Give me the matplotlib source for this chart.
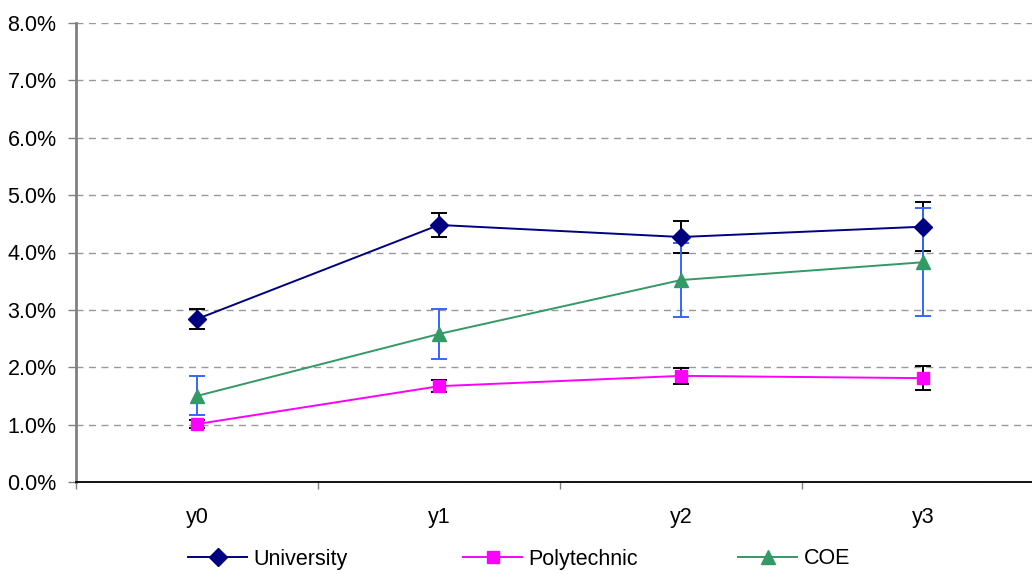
import matplotlib
matplotlib.use("Agg")
import matplotlib.pyplot as plt
from matplotlib.ticker import PercentFormatter, FixedLocator, NullFormatter, FixedFormatter

plt.rcParams['font.family'] = ['Liberation Sans', 'DejaVu Sans']

categories = ["y0", "y1", "y2", "y3"]
university = [2.84, 4.48, 4.27, 4.45]
university_err = [0.18, 0.21, 0.28, 0.43]
polytechnic = [1.01, 1.67, 1.85, 1.81]
polytechnic_err = [0.07, 0.10, 0.14, 0.21]
coe = [1.50, 2.58, 3.52, 3.83]
coe_err = [0.34, 0.44, 0.64, 0.94]

W, H = 1032, 574
fig = plt.figure(figsize=(W / 100, H / 100), dpi=100)
ax = fig.add_axes([76 / W, (H - 482) / H, (1044 - 76) / W, (482 - 23) / H])

x = [i + 0.5 for i in range(len(categories))]

series = [
    ("University", university, university_err, "#000080", "D", 9, "black"),
    ("Polytechnic", polytechnic, polytechnic_err, "#FF00FF", "s", 8.5, "black"),
    ("COE", coe, coe_err, "#339966", "^", 10, "#3366FF"),
]

handles = []
for name, vals, errs, color, marker, ms, ecolor in series:
    ax.errorbar(x, vals, yerr=errs, fmt="none", ecolor=ecolor, elinewidth=1.4,
                capsize=6, capthick=1.4, zorder=3)
    h, = ax.plot(x, vals, color=color, lw=1.4, marker=marker, ms=ms,
                 mfc=color, mec=color, label=name, zorder=4)
    handles.append(h)

ax.set_xlim(0, 4)
ax.set_ylim(0, 8)
ax.yaxis.set_major_locator(FixedLocator([0, 1, 2, 3, 4, 5, 6, 7, 8]))
ax.yaxis.set_major_formatter(PercentFormatter(xmax=100, decimals=1))

ax.xaxis.set_major_locator(FixedLocator([0, 1, 2, 3, 4]))
ax.xaxis.set_major_formatter(NullFormatter())
ax.xaxis.set_minor_locator(FixedLocator(x))
ax.xaxis.set_minor_formatter(FixedFormatter(categories))
ax.tick_params(axis="x", which="major", length=5, width=1, color="#808080", direction="out")
ax.tick_params(axis="x", which="minor", length=0, pad=18, labelsize=15.5)
ax.tick_params(axis="y", length=6, width=1, color="#808080", direction="out",
               pad=8, labelsize=15.5)

ax.grid(axis="y", color="#999999", linestyle=(0, (5, 4)), linewidth=1.0, zorder=1)
ax.set_axisbelow(True)

for s in ("top", "right"):
    ax.spines[s].set_visible(False)
ax.spines["left"].set_color("#808080")
ax.spines["left"].set_linewidth(2)
ax.spines["bottom"].set_color("black")
ax.spines["bottom"].set_linewidth(1.3)

# legend entries evenly spaced along the bottom
legend_x = [188, 463, 738]
for h, lx in zip(handles, legend_x):
    fig.legend(handles=[h], loc="center left", bbox_to_anchor=(lx / W, 1 - 559 / H),
               frameon=False, fontsize=15.5, handlelength=2.75, handletextpad=0.3,
               borderaxespad=0, borderpad=0)

fig.savefig("out.png", dpi=100)
